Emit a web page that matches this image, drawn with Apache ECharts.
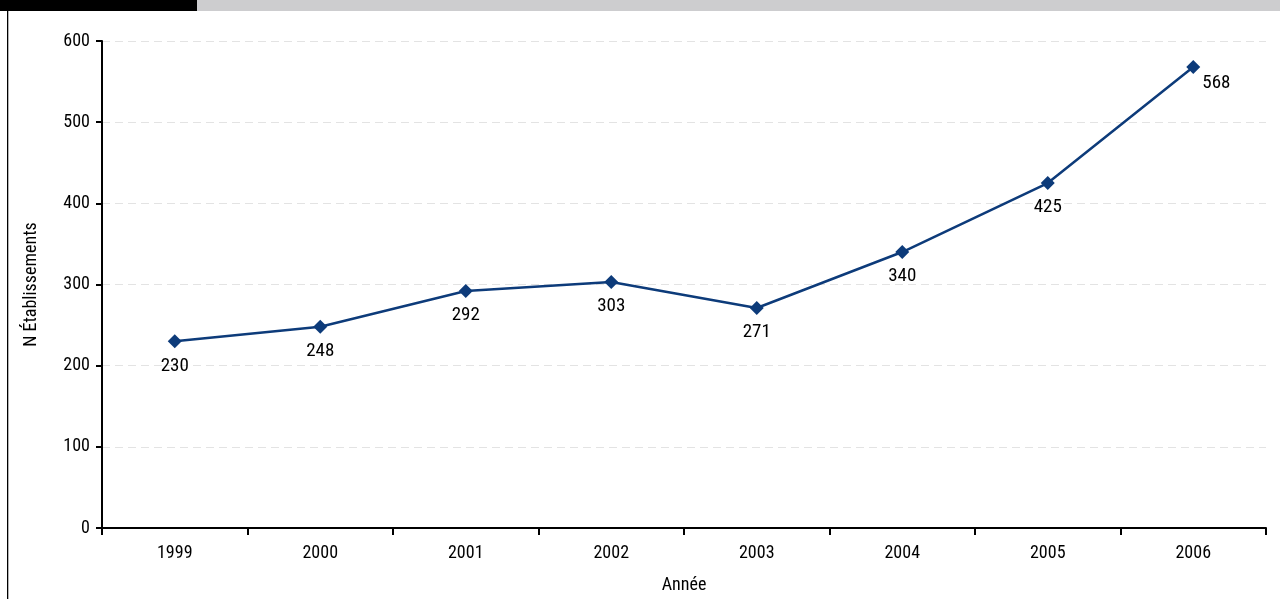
<!DOCTYPE html>
<html><head><meta charset="utf-8">
<script src="https://cdn.jsdelivr.net/npm/echarts@6/dist/echarts.min.js"></script>
<style>html,body{margin:0;padding:0;background:#fff}#c{width:1280px;height:599px}</style>
</head><body><div id="c"></div>
<script>
const categories = ['1999','2000','2001','2002','2003','2004','2005','2006'];
const values = [230,248,292,303,271,340,425,568];
const yTicks = [0,100,200,300,400,500,600];
const F = '"Liberation Sans Narrow","Roboto Condensed","Liberation Sans",sans-serif';
const chart = echarts.init(document.getElementById('c'));
chart.setOption({
  animation:false,
  textStyle:{fontFamily:F},
  graphic:[
    {type:'rect',shape:{x:0,y:0,width:197,height:11},style:{fill:'#000'}},
    {type:'rect',shape:{x:197,y:0,width:1083,height:11},style:{fill:'#cdcdcf'}},
    {type:'rect',shape:{x:7,y:11,width:1.3,height:588},style:{fill:'#000'}}
  ],
  grid:{left:102,right:14,top:41,bottom:71},
  xAxis:{type:'category',data:categories,boundaryGap:true,name:'Année',nameLocation:'middle',nameGap:48,
    nameTextStyle:{fontFamily:F,fontSize:18,color:'#000'},
    axisLine:{lineStyle:{color:'#000',width:2}},axisTick:{show:true,length:7,lineStyle:{width:2,color:'#000'}},
    axisLabel:{fontFamily:F,fontSize:18,color:'#000',margin:16}},
  yAxis:{type:'value',min:0,max:600,interval:100,name:'N Établissements',nameLocation:'middle',nameGap:62,
    nameTextStyle:{fontFamily:F,fontSize:18,color:'#000'},
    axisLine:{show:true,lineStyle:{color:'#000',width:2}},axisTick:{show:true,length:6,lineStyle:{width:2,color:'#000'}},
    axisLabel:{fontFamily:F,fontSize:18,color:'#000',margin:12,formatter:v=>yTicks.includes(v)?String(v):''},
    splitLine:{lineStyle:{color:'#e3e3e3',type:[8,5],width:1}}},
  series:[{type:'line',data:values.map((v,i)=>i===values.length-1?{value:v,label:{position:'right',offset:[-6,16]}}:v),
    symbol:'diamond',symbolSize:14,
    lineStyle:{color:'#0d3b7a',width:2.5},itemStyle:{color:'#0d3b7a'},
    label:{show:true,position:'bottom',distance:8,fontFamily:F,fontSize:19,color:'#000'}}]
});
</script></body></html>
